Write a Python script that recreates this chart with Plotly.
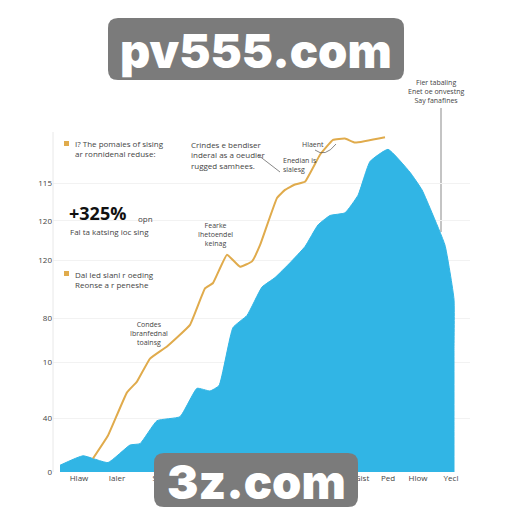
import plotly.graph_objects as go

# Chart values
area_x = [7, 30, 55, 77, 87, 104, 127, 144, 157, 166, 180, 194, 209, 222, 237, 252, 265, 277, 292, 305, 317, 335, 357, 369, 379, 392, 401, 401, 401, 401]
area_y = [5, 12, 7, 20, 21, 38, 41, 62, 60, 64, 107, 116, 137, 144, 155, 167, 183, 190, 192, 205, 230, 239, 222, 209, 192, 168, 128, 90, 30, 0]
line_x = [40, 55, 74, 84, 97, 114, 137, 152, 160, 174, 187, 199, 207, 224, 232, 242, 252, 267, 280, 292, 302, 332]
line_y = [10, 27, 59, 67, 84, 93, 109, 136, 140, 161, 152, 156, 168, 203, 209, 213, 215, 235, 246, 247, 244, 248]

y_ticks = [0, 40, 81, 114, 157, 186, 214]
y_labels = ["0", "40", "10", "80", "120", "120", "115"]
x_ticks = [26, 64, 104, 309, 335, 365, 398]
x_labels = ["Hlaw", "Ialer", "Sa", "Gist", "Ped", "Hlow", "Yecl"]

LINE = "#E0AB4C"
AREA = "#31B5E5"
BOX = "#7B7B7B"
TEXT = "#444444"

# Plot area in pixels of the 512 page (the page body adds 8px top and left)
L, R, T, B = 53, 470, 60, 472


def px(x):
    return (x - L) / (R - L)


def py(y):
    return (B - y) / (B - T)


def round_box(x0, y0, x1, y1, r=10):
    a, b, c, d = px(x0), py(y0), px(x1), py(y1)
    rx, ry = r / (R - L), r / (B - T)
    return (f"M {a + rx} {b} L {c - rx} {b} Q {c} {b} {c} {b - ry} L {c} {d + ry} Q {c} {d} {c - rx} {d} "
            f"L {a + rx} {d} Q {a} {d} {a} {d + ry} L {a} {b - ry} Q {a} {b} {a + rx} {b} Z")


def note(x, y, text, size=8, color=TEXT, align="left", anchor="left", family="Open Sans", weight="normal"):
    return dict(xref="paper", yref="paper", x=px(x), y=py(y), text=text, showarrow=False,
                xanchor=anchor, yanchor="middle", align=align,
                font=dict(size=size, color=color, family=family, weight=weight))


fig = go.Figure()

fig.add_trace(go.Scatter(
    x=area_x, y=area_y, mode="lines", fill="tozeroy",
    fillcolor=AREA, line=dict(color=AREA, width=1, shape="spline", smoothing=0.4), hoverinfo="skip"
))
fig.add_trace(go.Scatter(
    x=line_x, y=line_y, mode="lines",
    line=dict(color=LINE, width=2, shape="spline", smoothing=0.3), hoverinfo="skip"
))

shapes = [
    # axis line and the vertical marker
    dict(type="line", xref="paper", yref="paper", x0=0, x1=0, y0=0, y1=py(132), line=dict(color="#E8E8E8", width=1)),
    dict(type="line", xref="paper", yref="paper", x0=px(441), x1=px(441), y0=py(232), y1=py(108),
         line=dict(color="#B0B0B0", width=1.5), layer="below"),
    # leader lines
    dict(type="line", xref="paper", yref="paper", x0=px(258), x1=px(280), y0=py(155), y1=py(172),
         line=dict(color="#555555", width=0.7)),
    dict(type="path", xref="paper", yref="paper", line=dict(color="#555555", width=0.7),
         path=f"M {px(315)} {py(150)} Q {px(325)} {py(158)} {px(336)} {py(144)}"),
    # legend squares
    dict(type="rect", xref="paper", yref="paper", x0=px(64), x1=px(69), y0=py(146), y1=py(141),
         fillcolor=LINE, line=dict(width=0)),
    dict(type="rect", xref="paper", yref="paper", x0=px(64), x1=px(69), y0=py(276), y1=py(271),
         fillcolor=LINE, line=dict(width=0)),
    # grey boxes behind the big domain names
    dict(type="path", xref="paper", yref="paper", path=round_box(108, 18, 404, 80), fillcolor=BOX, line=dict(width=0)),
    dict(type="path", xref="paper", yref="paper", path=round_box(154, 453, 358, 507), fillcolor=BOX, line=dict(width=0)),
]

annotations = [
    note(73, 148, "I? The pomaies of sising<br>ar ronnidenal reduse:"),
    note(189, 155, "Crindes e bendiser<br>inderal as a oeudier<br>rugged samhees."),
    note(281, 165, "Enedian is<br>sialesg", size=7),
    note(300, 144, "Hlaent", size=7),
    note(436, 92, "Fier tabaling<br>Enet oe onvestng<br>Say fanafines", size=7, align="center", anchor="center"),
    note(67, 213, "<b>+325%</b>", size=18, color="#111111"),
    note(136, 218, "opn", size=8),
    note(68, 231, "Fal ta katsing ioc sing", size=8),
    note(73, 279, "Dal Ied slanl r oeding<br>Reonse a r peneshe"),
    note(215, 234, "Fearke<br>Ihetoendel<br>keinag", size=7, align="center", anchor="center"),
    note(149, 334, "Condes<br>Ibranfednal<br>toainsg", size=7, align="center", anchor="center"),
    note(256, 51, "pv555.com", size=47, color="white", align="center", anchor="center", family="Inter", weight=900),
    note(256, 481, "3z.com", size=47, color="white", align="center", anchor="center", family="Inter", weight=900),
]

fig.update_layout(
    width=504, height=504,
    margin=dict(l=L - 8, r=512 - R, t=T - 8, b=512 - B),
    paper_bgcolor="white", plot_bgcolor="white",
    showlegend=False,
    shapes=shapes, annotations=annotations,
    xaxis=dict(range=[0, R - L], tickmode="array", tickvals=x_ticks, ticktext=x_labels,
               showgrid=False, zeroline=False, ticks="", showline=False,
               tickfont=dict(size=8, color=TEXT, family="Open Sans")),
    yaxis=dict(range=[0, (B - T) / 1.35], tickmode="array", tickvals=y_ticks, ticktext=y_labels,
               showgrid=True, gridcolor="#F2F2F2", gridwidth=1, zeroline=False, ticks="",
               showline=False, tickfont=dict(size=8, color=TEXT, family="Open Sans")),
)

fig.write_html("out.html")
